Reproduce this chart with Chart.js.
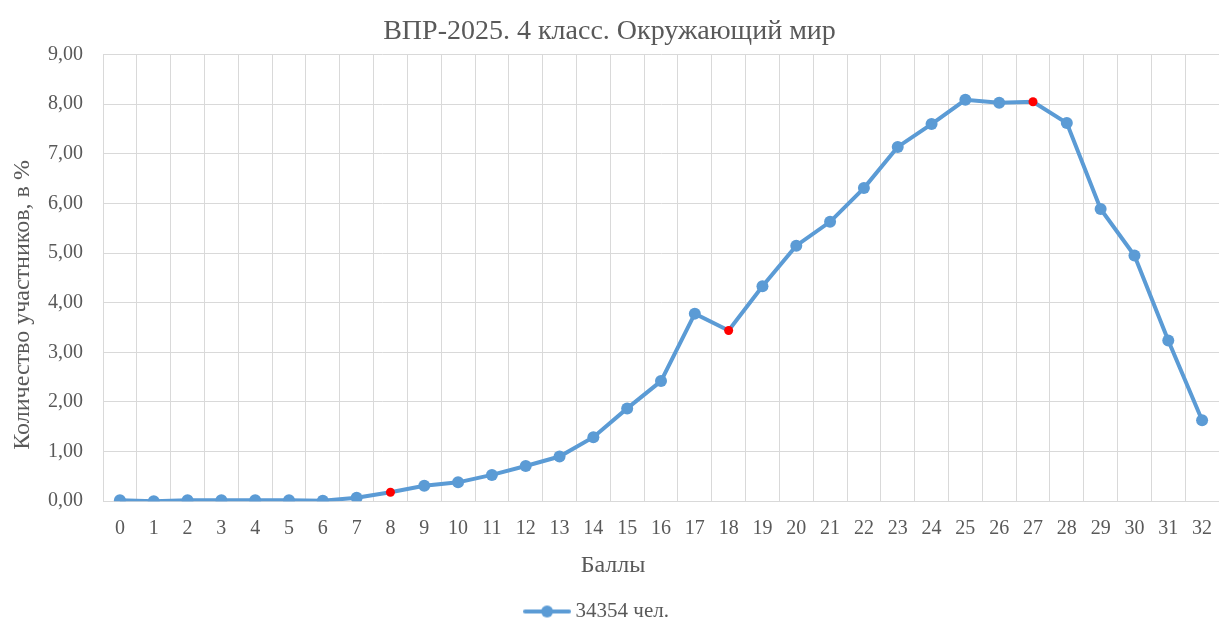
<!DOCTYPE html>
<html>
<head>
<meta charset="utf-8">
<script src="https://cdn.jsdelivr.net/npm/chart.js@4"></script>
<style>
  html, body { margin: 0; padding: 0; background: #fff; }
  #wrap { width: 1219px; height: 623px; }
</style>
</head>
<body>
<div id="wrap"><canvas id="vprChart"></canvas></div>
<script>
// ---- data ----
const scores = ['0','1','2','3','4','5','6','7','8','9','10','11','12','13','14','15','16',
  '17','18','19','20','21','22','23','24','25','26','27','28','29','30','31','32'];
const percents = [0.02, 0.00, 0.02, 0.02, 0.02, 0.02, 0.01, 0.07, 0.18, 0.31, 0.38, 0.53, 0.71,
  0.90, 1.29, 1.87, 2.42, 3.78, 3.44, 4.33, 5.15, 5.63, 6.31, 7.14, 7.60, 8.09, 8.03, 8.05,
  7.62, 5.89, 4.95, 3.24, 1.63];
const markedScores = ['8', '18', '27'];
const seriesLabel = '34354 чел.';

const blue = '#5b9bd5';
const red = '#ff0000';
const textGrey = '#595959';
const serif = '"Liberation Serif", "Times New Roman", serif';
// trailing no-break spaces nudge centred titles the way Excel placed them
const nbsp = n => '\u00A0'.repeat(n);

const pointFill = scores.map(s => markedScores.includes(s) ? red : blue);
const pointSize = scores.map(s => markedScores.includes(s) ? 4.5 : 6);

// legend swatch: line with a dot
const swatch = document.createElement('canvas');
swatch.width = 48; swatch.height = 14;
(function () {
  const c = swatch.getContext('2d');
  c.strokeStyle = blue; c.lineWidth = 4; c.lineCap = 'round';
  c.beginPath(); c.moveTo(2, 7); c.lineTo(46, 7); c.stroke();
  c.fillStyle = blue; c.beginPath(); c.arc(24, 7, 6, 0, Math.PI * 2); c.fill();
})();

document.addEventListener('DOMContentLoaded', function () {
  const ctx = document.getElementById('vprChart');
  new Chart(ctx.getContext('2d'), {
    type: 'line',
    data: {
      labels: scores,
      datasets: [{
        label: seriesLabel,
        data: percents,
        borderColor: blue,
        borderWidth: 4,
        backgroundColor: blue,
        pointBackgroundColor: pointFill,
        pointBorderColor: pointFill,
        pointBorderWidth: 0,
        pointRadius: pointSize,
        tension: 0,
        fill: false,
      }]
    },
    options: {
      responsive: true,
      maintainAspectRatio: false,
      animation: false,
      layout: { autoPadding: false, padding: { left: 0, right: 0, top: 0, bottom: -9 } },
      scales: {
        x: {
          offset: true,
          // invisible tick marks push the labels down without adding side padding
          grid: { offset: true, color: '#d9d9d9', tickLength: 16, tickColor: 'rgba(0,0,0,0)' },
          border: { color: '#d9d9d9' },
          ticks: { color: textGrey, padding: 0, maxRotation: 0, autoSkip: false, font: { size: 20, family: serif } },
          title: { display: true, text: 'Баллы' + nbsp(16), color: textGrey, padding: { top: 10, bottom: 21 }, font: { size: 24, family: serif } }
        },
        y: {
          min: 0, max: 9,
          grid: { color: '#d9d9d9', drawTicks: false },
          border: { color: '#d9d9d9' },
          ticks: {
            stepSize: 1, color: textGrey, padding: 20, font: { size: 20, family: serif },
            callback: function (v) { return v.toFixed(2).replace('.', ','); }
          },
          title: { display: true, text: 'Количество участников, в %' + nbsp(9), color: textGrey, padding: { top: 8, bottom: 0 }, font: { size: 24, family: serif } },
          afterFit: function (scale) { scale.width = 103; }
        }
      },
      plugins: {
        title: {
          display: true, text: 'ВПР-2025. 4 класс. Окружающий мир', color: textGrey,
          padding: { top: 15, bottom: 6 }, font: { size: 28, weight: 'normal', family: serif }
        },
        legend: {
          position: 'bottom',
          labels: {
            color: textGrey, font: { size: 21, family: serif }, usePointStyle: true, pointStyleWidth: 36, padding: 0,
            generateLabels: function (chart) {
              return [{ text: seriesLabel + nbsp(4), pointStyle: swatch, fillStyle: blue, strokeStyle: blue, lineWidth: 0, fontColor: textGrey, datasetIndex: 0 }];
            }
          }
        },
        tooltip: { enabled: false }
      }
    }
  });
});
</script>
</body>
</html>
